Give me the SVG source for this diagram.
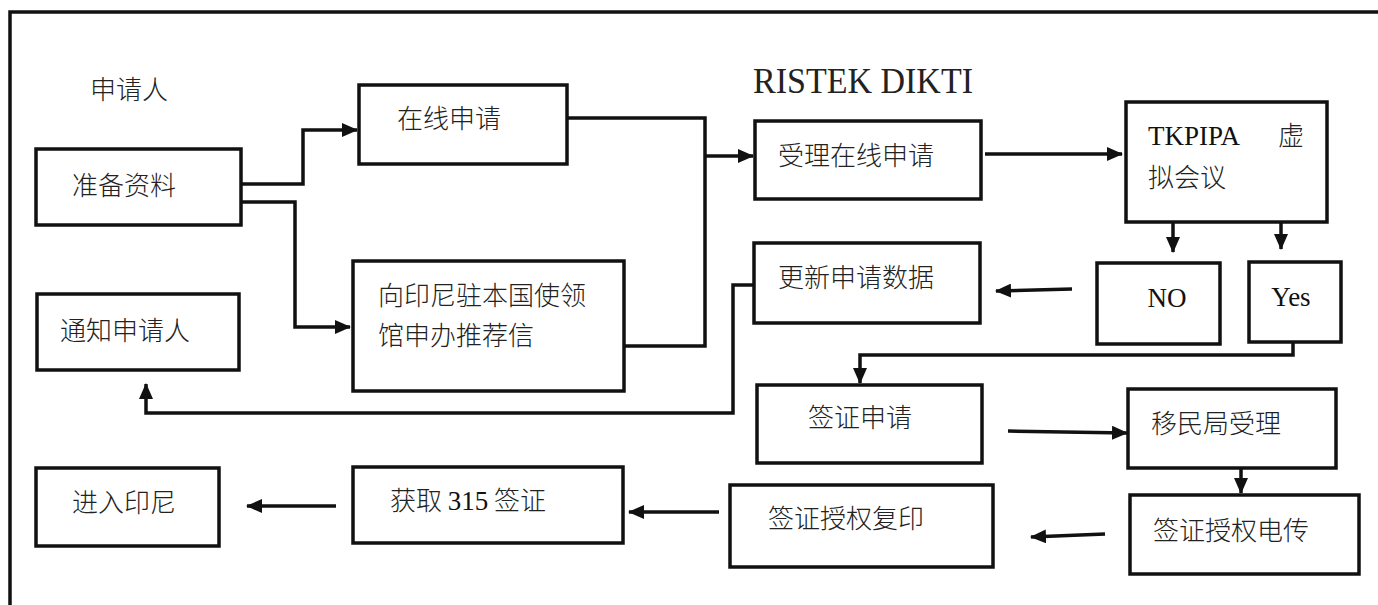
<svg xmlns="http://www.w3.org/2000/svg" width="1378" height="605" viewBox="0 0 1378 605">
<style>
.box{fill:#fff;stroke:#111;stroke-width:3.5}
.ln{fill:none;stroke:#111;stroke-width:3.5}
.cn{font-family:"Noto Sans CJK SC","Noto Sans",sans-serif;font-size:26px;font-weight:300;fill:#222}
.lt{font-family:"Liberation Serif","Noto Sans CJK SC",serif;font-size:27px;font-weight:400;fill:#111}
.mono{font-family:"Liberation Serif",serif;font-size:36px;fill:#222}
</style>
<defs>
<marker id="ah" markerUnits="userSpaceOnUse" markerWidth="16" markerHeight="14" refX="15" refY="7" orient="auto">
<path d="M0,0 L16,7 L0,14 z" fill="#111"/>
</marker>
</defs>
<rect width="1378" height="605" fill="#fff"/>
<path class="ln" d="M10,605 V12 H1378"/>
<text class="cn" x="90" y="99">申请人</text>
<text class="mono" x="753" y="93" textLength="220" lengthAdjust="spacingAndGlyphs">RISTEK DIKTI</text>
<g id="connectors">
<path class="ln" d="M241,184 H303 V130 H357" marker-end="url(#ah)"/>
<path class="ln" d="M241,202 H295 V327 H350" marker-end="url(#ah)"/>
<path class="ln" d="M567,118 H705 V346 H624"/>
<path class="ln" d="M705,156 H753" marker-end="url(#ah)"/>
<path class="ln" d="M985,154 H1122" marker-end="url(#ah)"/>
<path class="ln" d="M1173,222 V252" marker-end="url(#ah)"/>
<path class="ln" d="M1281,222 V249" marker-end="url(#ah)"/>
<path class="ln" d="M1072,289 L996,291" marker-end="url(#ah)"/>
<path class="ln" d="M754,285 H733 V413 H146 V384" marker-end="url(#ah)"/>
<path class="ln" d="M1293,342 V355 H860 V383" marker-end="url(#ah)"/>
<path class="ln" d="M1008,431 L1127,433" marker-end="url(#ah)"/>
<path class="ln" d="M1241,468 V493" marker-end="url(#ah)"/>
<path class="ln" d="M1105,534 L1031,537" marker-end="url(#ah)"/>
<path class="ln" d="M719,512 H629" marker-end="url(#ah)"/>
<path class="ln" d="M336,506 H247" marker-end="url(#ah)"/>
</g>
<g id="prepare"><rect class="box" x="36" y="149" width="205" height="76"/><text class="cn" x="72" y="195">准备资料</text></g>
<g id="online"><rect class="box" x="359" y="85" width="208" height="79"/><text class="cn" x="397" y="128">在线申请</text></g>
<g id="embassy"><rect class="box" x="353" y="261" width="271" height="130"/><text class="cn" x="378" y="305">向印尼驻本国使领</text><text class="cn" x="378" y="345">馆申办推荐信</text></g>
<g id="notify"><rect class="box" x="37" y="294" width="202" height="76"/><text class="cn" x="60" y="340">通知申请人</text></g>
<g id="accept"><rect class="box" x="755" y="121" width="226" height="78"/><text class="cn" x="778" y="165">受理在线申请</text></g>
<g id="tkpipa"><rect class="box" x="1126" y="102" width="201" height="120"/><text class="lt" x="1148" y="145">TKPIPA</text><text class="cn" x="1278" y="145">虚</text><text class="cn" x="1148" y="187">拟会议</text></g>
<g id="no"><rect class="box" x="1097" y="263" width="123" height="81"/><text class="lt" x="1167" y="307" text-anchor="middle">NO</text></g>
<g id="yes"><rect class="box" x="1249" y="262" width="92" height="80"/><text class="lt" x="1291" y="306" text-anchor="middle">Yes</text></g>
<g id="update"><rect class="box" x="754" y="243" width="226" height="80"/><text class="cn" x="778" y="287">更新申请数据</text></g>
<g id="visa-apply"><rect class="box" x="757" y="385" width="225" height="78"/><text class="cn" x="808" y="427">签证申请</text></g>
<g id="immigration"><rect class="box" x="1128" y="389" width="208" height="79"/><text class="cn" x="1151" y="433">移民局受理</text></g>
<g id="telex"><rect class="box" x="1130" y="495" width="229" height="79"/><text class="cn" x="1153" y="540">签证授权电传</text></g>
<g id="copy"><rect class="box" x="730" y="485" width="263" height="82"/><text class="cn" x="768" y="528">签证授权复印</text></g>
<g id="get-visa"><rect class="box" x="353" y="467" width="270" height="76"/><text class="cn" x="390" y="510">获取 <tspan class="lt">315</tspan> 签证</text></g>
<g id="enter"><rect class="box" x="36" y="468" width="183" height="78"/><text class="cn" x="72" y="512">进入印尼</text></g>
</svg>
